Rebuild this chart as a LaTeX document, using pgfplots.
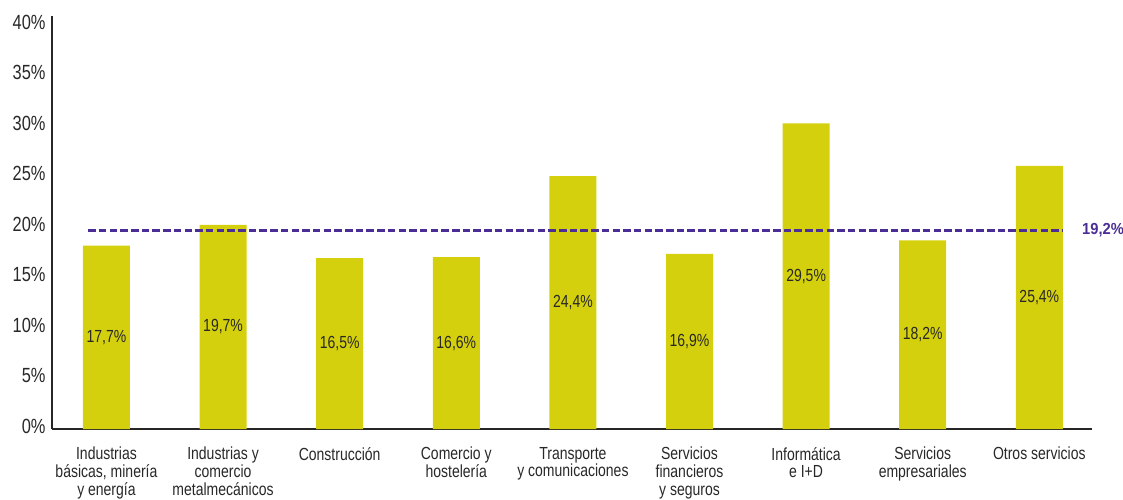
\documentclass[border=0pt]{standalone}
\usepackage{fontspec}
\setmainfont{Liberation Sans}[FakeStretch=0.8]
\newfontfamily\avgfont{Liberation Sans}[FakeStretch=0.92]
\usepackage{pgfplots}
\pgfplotsset{compat=1.18}
\usepackage{pgfplotstable}
\definecolor{barc}{RGB}{212,208,14}
\definecolor{avgc}{RGB}{75,45,150}
\definecolor{txt}{RGB}{40,40,40}

\pgfplotstableread{
x y
0 17.7
1 19.7
2 16.5
3 16.6
4 24.4
5 16.9
6 29.5
7 18.2
8 25.4
}\datatable

\begin{document}
\begin{tikzpicture}
\clip (0,0) rectangle (1123pt,499pt);
\begin{axis}[
  at={(52pt,70pt)}, anchor=south west,
  scale only axis, width=1040pt, height=413.4pt,
  xmin=-0.467, xmax=8.452, ymin=0, ymax=39.9,
  axis x line=bottom, axis y line=left,
  axis line style={-, line width=1.8pt, color=black!85},
  major tick length=0pt,
  ytick={0.29,5.164,10.039,14.913,19.788,24.662,29.537,34.411,39.286},
  yticklabels={0\%,5\%,10\%,15\%,20\%,25\%,30\%,35\%,40\%},
  yticklabel style={font=\fontsize{20.5}{20.5}\selectfont, text=txt, xshift=-3pt},
  xtick={0,...,8},
  xticklabels={{Industrias\\básicas, minería\\y energía},{Industrias y\\comercio\\metalmecánicos},{Construcción},{Comercio y\\hostelería},{Transporte\\y comunicaciones},{Servicios\\financieros\\y seguros},{Informática\\e I+D},{Servicios\\empresariales},{Otros servicios}},
  xticklabel style={align=center, font=\fontsize{17.5}{17.6}\selectfont, text=txt, anchor=north, inner sep=0pt, yshift=-18pt},
  /pgf/number format/assume math mode=true,
  clip=false,
]
\addplot[ybar, bar width=47pt, fill=barc, draw=none] table[x=x,y=y]{\datatable};
\addplot[draw=none, mark=none, forget plot, y filter/.expression={y/2}, point meta=explicit,
  nodes near coords={\pgfmathprintnumber[fixed,fixed zerofill,precision=1,use comma]{\pgfplotspointmeta}\%},
  nodes near coords style={anchor=center, font=\fontsize{17.5}{17.5}\selectfont, text=txt}]
  table[x=x,y=y,meta=y]{\datatable};
\addplot[color=avgc, line width=3pt, dash pattern=on 7.5pt off 3.2pt] coordinates {(-0.156,19.2) (8.203,19.2)};
\node[anchor=west, inner sep=0pt, xshift=19pt, text=avgc, font=\avgfont\bfseries\fontsize{16}{16}\selectfont] at (axis cs:8.203,19.2) {19,2\%};
\end{axis}
\end{tikzpicture}
\end{document}
